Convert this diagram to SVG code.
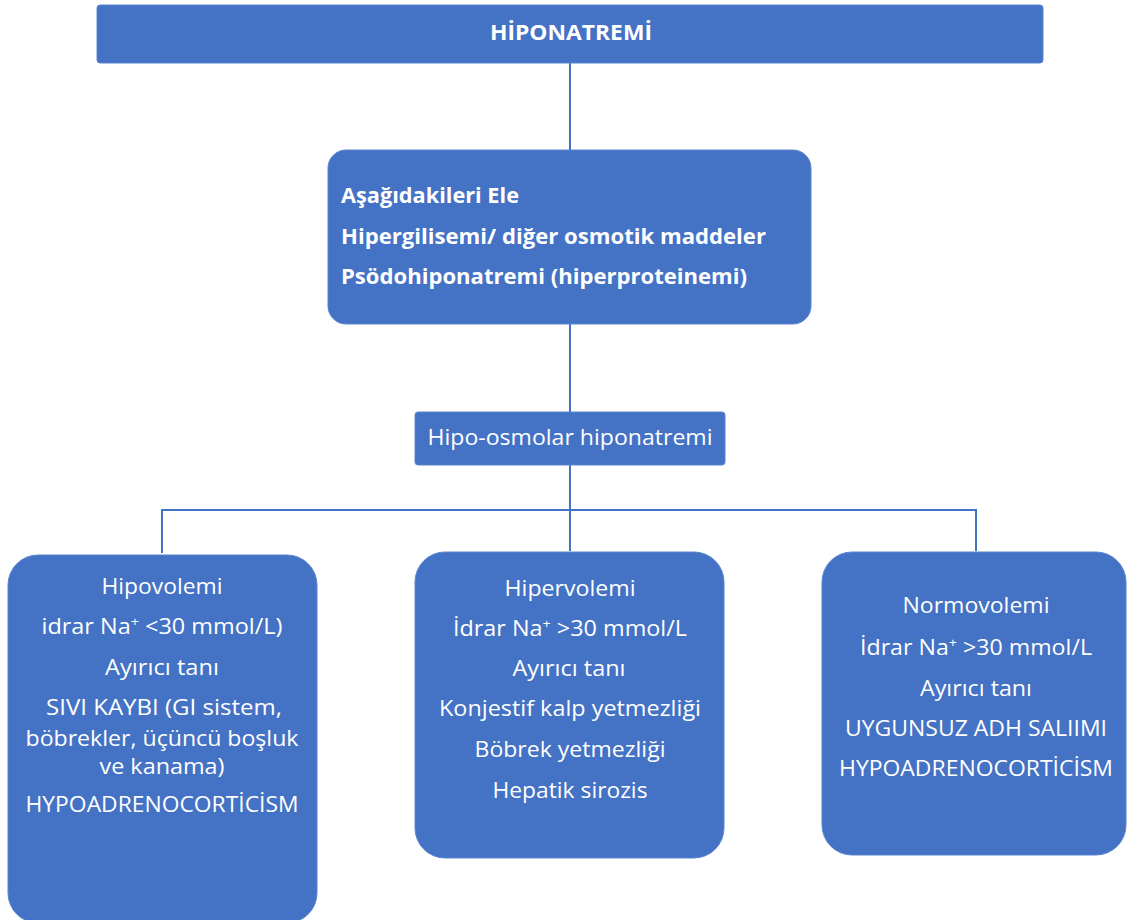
<svg xmlns="http://www.w3.org/2000/svg" width="1127" height="920" viewBox="0 0 1127 920">
<style>
.box{fill:#4472C4;stroke:#5B86D0;stroke-width:1}
.t{font-family:"Open Sans","Liberation Sans",sans-serif;fill:#fff;font-size:21px}
.b{font-weight:bold}
.c{text-anchor:middle}
.ln{stroke:#4472C4;stroke-width:2;fill:none}
.sup{font-size:13px}
</style>
<rect width="1127" height="920" fill="#fff"/>
<g id="connectors">
<path class="ln" d="M570 63V150"/>
<path class="ln" d="M570 324V412"/>
<path class="ln" d="M570 465V551"/>
<path class="ln" d="M162 553V510H976V551"/>
</g>
<g id="n1">
<rect class="box" x="97" y="5" width="946" height="58" rx="3"/>
<text class="t b c" x="571" y="40" textLength="162" lengthAdjust="spacingAndGlyphs">HİPONATREMİ</text>
</g>
<g id="n2">
<rect class="box" x="328" y="150" width="483" height="174" rx="18"/>
<text class="t b" x="341" y="203" textLength="178" lengthAdjust="spacingAndGlyphs">Aşağıdakileri Ele</text>
<text class="t b" x="341" y="244" textLength="425" lengthAdjust="spacingAndGlyphs">Hipergilisemi/ diğer osmotik maddeler</text>
<text class="t b" x="341" y="284" textLength="406" lengthAdjust="spacingAndGlyphs">Psödohiponatremi (hiperproteinemi)</text>
</g>
<g id="n3">
<rect class="box" x="415" y="412" width="310" height="53" rx="3"/>
<text class="t c" x="570" y="445" textLength="285" lengthAdjust="spacingAndGlyphs">Hipo-osmolar hiponatremi</text>
</g>
<g id="n4">
<rect class="box" x="8" y="555" width="309" height="368" rx="30"/>
<text class="t c" x="162" y="594" textLength="121" lengthAdjust="spacingAndGlyphs">Hipovolemi</text>
<text class="t c" x="162" y="634" textLength="241" lengthAdjust="spacingAndGlyphs">idrar Na<tspan class="sup" dy="-8">+</tspan><tspan dy="8"> &lt;30 mmol/L)</tspan></text>
<text class="t c" x="162" y="675" textLength="114" lengthAdjust="spacingAndGlyphs">Ayırıcı tanı</text>
<text class="t c" x="164" y="715" textLength="236" lengthAdjust="spacingAndGlyphs">SIVI KAYBI (GI sistem,</text>
<text class="t c" x="162" y="746" textLength="273" lengthAdjust="spacingAndGlyphs">böbrekler, üçüncü boşluk</text>
<text class="t c" x="162" y="774" textLength="125" lengthAdjust="spacingAndGlyphs">ve kanama)</text>
<text class="t c" x="162" y="812" textLength="273" lengthAdjust="spacingAndGlyphs">HYPOADRENOCORTİCİSM</text>
</g>
<g id="n5">
<rect class="box" x="415" y="552" width="309" height="306" rx="30"/>
<text class="t c" x="570" y="596" textLength="131" lengthAdjust="spacingAndGlyphs">Hipervolemi</text>
<text class="t c" x="570" y="636" textLength="234" lengthAdjust="spacingAndGlyphs">İdrar Na<tspan class="sup" dy="-8">+</tspan><tspan dy="8"> &gt;30 mmol/L</tspan></text>
<text class="t c" x="569" y="676" textLength="113" lengthAdjust="spacingAndGlyphs">Ayırıcı tanı</text>
<text class="t c" x="570" y="716" textLength="262" lengthAdjust="spacingAndGlyphs">Konjestif kalp yetmezliği</text>
<text class="t c" x="570" y="757" textLength="191" lengthAdjust="spacingAndGlyphs">Böbrek yetmezliği</text>
<text class="t c" x="570" y="798" textLength="155" lengthAdjust="spacingAndGlyphs">Hepatik sirozis</text>
</g>
<g id="n6">
<rect class="box" x="822" y="552" width="304" height="303" rx="30"/>
<text class="t c" x="976" y="613" textLength="147" lengthAdjust="spacingAndGlyphs">Normovolemi</text>
<text class="t c" x="976" y="655" textLength="232" lengthAdjust="spacingAndGlyphs">İdrar Na<tspan class="sup" dy="-8">+</tspan><tspan dy="8"> &gt;30 mmol/L</tspan></text>
<text class="t c" x="976" y="696" textLength="112" lengthAdjust="spacingAndGlyphs">Ayırıcı tanı</text>
<text class="t c" x="976" y="736" textLength="262" lengthAdjust="spacingAndGlyphs">UYGUNSUZ ADH SALIIMI</text>
<text class="t c" x="976" y="776" textLength="274" lengthAdjust="spacingAndGlyphs">HYPOADRENOCORTİCİSM</text>
</g>
</svg>
